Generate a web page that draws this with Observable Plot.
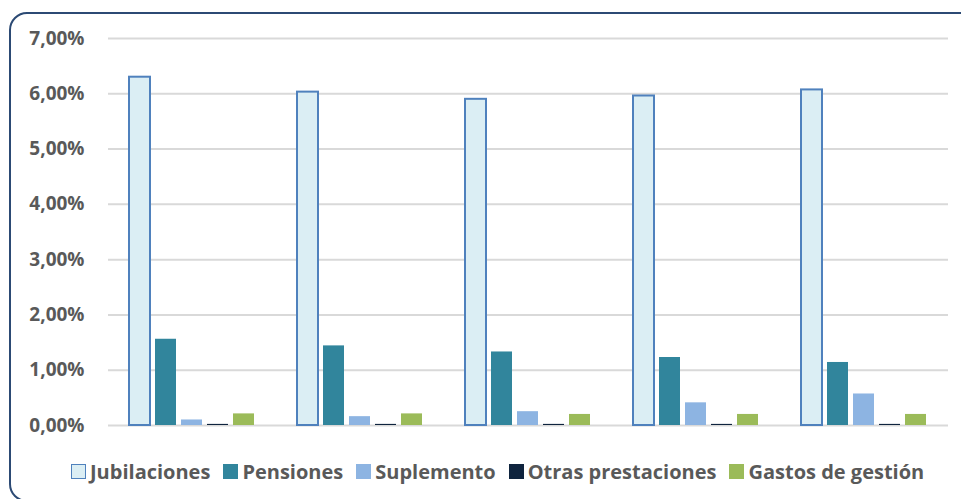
<!DOCTYPE html>
<html>
<head>
<meta charset="utf-8">
<script src="https://cdn.jsdelivr.net/npm/d3@7"></script>
<script src="https://cdn.jsdelivr.net/npm/@observablehq/plot@0.6"></script>
<style>
  html, body { margin: 0; padding: 0; background: #fff; width: 961px; height: 499px; overflow: hidden; }
  #frame { position: absolute; left: 9px; top: 12px; width: 980px; height: 490px; border: 2.5px solid #2c4a74; border-radius: 18px; box-sizing: border-box; }
  #chart { position: absolute; left: 0; top: 0; }
  #legend { position: absolute; left: 71px; top: 458px; display: flex; align-items: center; font-family: "Open Sans", sans-serif; font-weight: 700; font-size: 20px; color: #595959; white-space: nowrap; }
  .item { display: flex; align-items: center; margin-right: 13px; }
  .sw { width: 15px; height: 15px; margin-right: 4px; box-sizing: border-box; }
</style>
</head>
<body>
<div id="frame"></div>
<div id="chart"></div>
<div id="legend"></div>
<script>
const periods = ["P1", "P2", "P3", "P4", "P5"];
const series = ["Jubilaciones", "Pensiones", "Suplemento", "Otras prestaciones", "Gastos de gestión"];
const jubilaciones = [6.30, 6.03, 5.90, 5.96, 6.07];
const pensiones = [1.56, 1.44, 1.33, 1.23, 1.14];
const suplemento = [0.10, 0.16, 0.25, 0.41, 0.57];
const otrasPrestaciones = [0.02, 0.02, 0.02, 0.02, 0.02];
const gastosGestion = [0.21, 0.21, 0.20, 0.20, 0.20];
const yTicks = [0, 1, 2, 3, 4, 5, 6, 7];

const fills = ["#dbeef4", "#31859c", "#8db4e2", "#0f243e", "#9bbb59"];
const valuesBySeries = [jubilaciones, pensiones, suplemento, otrasPrestaciones, gastosGestion];

const data = [];
periods.forEach((p, i) => {
  series.forEach((s, j) => {
    data.push({period: p, series: s, value: valuesBySeries[j][i]});
  });
});

const fmt = d => d.toFixed(2).replace(".", ",") + "%";

const chart = Plot.plot({
  width: 961,
  height: 445,
  marginLeft: 108,
  marginRight: 13,
  marginTop: 38,
  marginBottom: 20,
  style: {fontFamily: "Open Sans, sans-serif", background: "transparent"},
  fx: {domain: periods, padding: 0, axis: null},
  x: {domain: series, paddingInner: 0.19, paddingOuter: 0.81, axis: null},
  y: {domain: [0, 7]},
  color: {domain: series, range: fills},
  marks: [
    Plot.ruleY(yTicks, {y: d => d, stroke: "#d9d9d9", strokeWidth: 2}),
    Plot.axisY({ticks: yTicks, tickFormat: fmt, tickSize: 0, tickPadding: 24, fontSize: 19, fontWeight: "bold", fill: "#595959", label: null}),
    Plot.barY(data.filter(d => d.series !== "Jubilaciones"), {fx: "period", x: "series", y: "value", fill: "series"}),
    Plot.barY(data.filter(d => d.series === "Jubilaciones"), {fx: "period", x: "series", y: "value", fill: "#dbeef4", stroke: "#4f81bd", strokeWidth: 2})
  ]
});
document.getElementById("chart").appendChild(chart);

const legend = document.getElementById("legend");
series.forEach((s, j) => {
  const item = document.createElement("div");
  item.className = "item";
  const sw = document.createElement("div");
  sw.className = "sw";
  sw.style.background = fills[j];
  if (j === 0) sw.style.border = "1.5px solid #4f81bd";
  const t = document.createElement("span");
  t.textContent = s;
  item.appendChild(sw);
  item.appendChild(t);
  legend.appendChild(item);
});
</script>
</body>
</html>
